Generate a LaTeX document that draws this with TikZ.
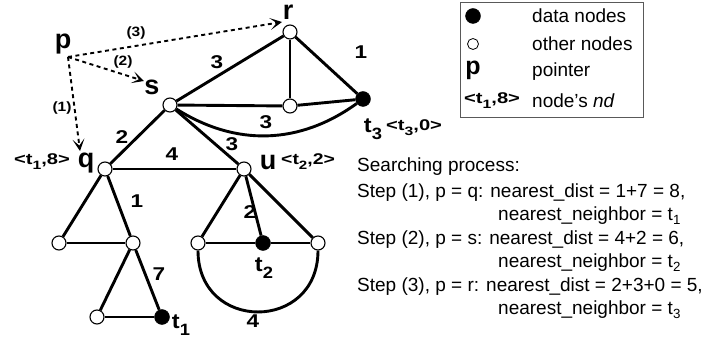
\documentclass[tikz,border=0pt]{standalone}
\usepackage{fontspec}
\setmainfont{Liberation Sans}
\usetikzlibrary{arrows.meta}
\newcommand{\wideb}[2][1.22]{\scalebox{#1}[1]{#2}}
\newcommand{\mysub}[1]{\raisebox{-0.32em}{\scalebox{0.78}{#1}}}
\tikzset{
  onode/.style={circle,draw,fill=white,line width=1.1pt,inner sep=0pt,minimum size=14pt},
  dnode/.style={circle,fill=black,draw=black,inner sep=0pt,minimum size=15pt},
  edge/.style={line width=2.9pt},
  ptr/.style={line width=1.9pt,dash pattern=on 4pt off 3.5pt,-{Stealth[length=12pt,width=12pt,inset=6.5pt]}},
  wlab/.style={font=\fontsize{18.5}{20}\bfseries\selectfont,inner sep=0pt},
  big/.style={font=\fontsize{27}{30}\bfseries\selectfont,inner sep=0pt},
  nd/.style={font=\fontsize{15.5}{17}\bfseries\selectfont,inner sep=0pt},
  tlab/.style={font=\fontsize{21}{23}\bfseries\selectfont,inner sep=0pt},
  plab/.style={font=\fontsize{13.5}{15}\bfseries\selectfont,inner sep=0pt},
  txt/.style={font=\fontsize{19}{22}\selectfont,inner sep=0pt,anchor=west},
}
\begin{document}
\begin{tikzpicture}[x=1pt,y=-1pt]
\useasboundingbox (0,0) rectangle (719,344);
% nodes
\node[onode] (s) at (170,105) {};
\node[onode] (r) at (290,32) {};
\node[onode] (m) at (290,106) {};
\node[dnode] (t3) at (363,99) {};
\node[onode] (q) at (105,169) {};
\node[onode] (u) at (244,169) {};
\node[onode] (ql) at (59,243) {};
\node[onode] (qm) at (133,243) {};
\node[onode] (bl) at (97,317) {};
\node[dnode] (t1) at (162,317) {};
\node[onode] (ul) at (198,243) {};
\node[dnode] (t2) at (263,243) {};
\node[onode] (ur) at (318,243) {};
% edges
\draw[edge] (s) -- (r);
\draw[edge] (s) -- (m);
\draw[edge] (m) -- (t3);
\draw[edge] (r) -- (m);
\draw[edge] (r) -- (t3);
\draw[edge] (s) to[bend right=34] (t3);
\draw[edge] (s) -- (q);
\draw[edge] (s) -- (u);
\draw[edge] (q) -- (u);
\draw[edge] (q) -- (ql);
\draw[edge] (q) -- (qm);
\draw[edge] (ql) -- (qm);
\draw[edge] (qm) -- (bl);
\draw[edge] (qm) -- (t1);
\draw[edge] (bl) -- (t1);
\draw[edge] (u) -- (ul);
\draw[edge] (u) -- (t2);
\draw[edge] (u) -- (ur);
\draw[edge] (ul) -- (t2);
\draw[edge] (t2) -- (ur);
\draw[edge] (ul) to[out=-90,in=-90,looseness=1.75] (ur);
% weights
\node[wlab] (w1) at (217,62) {\wideb{3}};
\node[wlab] (w2) at (361,52) {\wideb{1}};
\node[wlab] (w3) at (266,122) {\wideb{3}};
\node[wlab] (w4) at (232,144) {\wideb{3}};
\node[wlab] (w5) at (122,137) {\wideb{2}};
\node[wlab] (w6) at (172,154) {\wideb{4}};
\node[wlab] (w7) at (137,201) {\wideb{1}};
\node[wlab] (w8) at (159,274) {\wideb{7}};
\node[wlab] (w9) at (250,212) {\wideb{2}};
\node[wlab] (w10) at (253,321) {\wideb{4}};
% node labels
\node[big] (plab) at (63,44) {p};
\node[big] (slab) at (152,87) {s};
\node[big,anchor=base] (rlab) at (288,20) {r};
\node[big] (qlab) at (86,163) {q};
\node[nd] (qnd) at (42,162) {\wideb[1.3]{<t\mysub{1},8>}};
\node[big] (ulab) at (268,163) {u};
\node[nd,anchor=west] (und) at (281,162) {\wideb[1.25]{<t\mysub{2},2>}};
\node[tlab] (t3lab) at (373,129) {\wideb[1.12]{t\mysub{3}}};
\node[nd,anchor=west] (t3nd) at (386,128) {\wideb[1.3]{<t\mysub{3},0>}};
\node[tlab] (t1lab) at (181,325) {\wideb[1.12]{t\mysub{1}}};
\node[tlab] (t2lab) at (264,268) {\wideb[1.12]{t\mysub{2}}};
% pointer arrows
\coordinate (pp) at (68,57);
\coordinate (tq) at (80,151);
\coordinate (ts) at (144,81);
\coordinate (tr) at (282,22);
\draw[ptr] (pp) -- (tq);
\draw[ptr] (pp) -- (ts);
\draw[ptr] (pp) -- (tr);
\node[plab] (l1) at (62,108) {\wideb[1.15]{(1)}};
\node[plab] (l2) at (123,62) {\wideb[1.15]{(2)}};
\node[plab] (l3) at (136,33) {\wideb[1.15]{(3)}};
% legend
\draw[gray!70!black,line width=0.8pt] (460,2) rectangle (643,117);
\node[dnode] (ld) at (473,16) {};
\node[onode,minimum size=11pt,line width=0.8pt] (lo) at (473,44) {};
\node[font=\fontsize{25}{27}\bfseries\selectfont,inner sep=0pt] (lp) at (473,70) {p};
\node[nd,anchor=west] (lnd) at (464,101) {\wideb[1.3]{<t\mysub{1},8>}};
\node[txt] (ld1) at (532,16) {data nodes};
\node[txt] (ld2) at (532,44) {other nodes};
\node[txt] (ld3) at (532,72) {pointer};
\node[txt] (ld4) at (532,101) {node's \textit{nd}};
% search text
\node[txt] (s0) at (357,167) {Searching process:};
\node[txt] (s1) at (357,193) {Step (1), p = q: nearest\_dist = 1+7 = 8,};
\node[txt] (s2) at (498,216) {nearest\_neighbor = t\textsubscript{1}};
\node[txt] (s3) at (357,240) {Step (2), p = s: nearest\_dist = 4+2 = 6,};
\node[txt] (s4) at (498,263) {nearest\_neighbor = t\textsubscript{2}};
\node[txt] (s5) at (357,287) {Step (3), p = r: nearest\_dist = 2+3+0 = 5,};
\node[txt] (s6) at (498,310) {nearest\_neighbor = t\textsubscript{3}};
\end{tikzpicture}
\end{document}
